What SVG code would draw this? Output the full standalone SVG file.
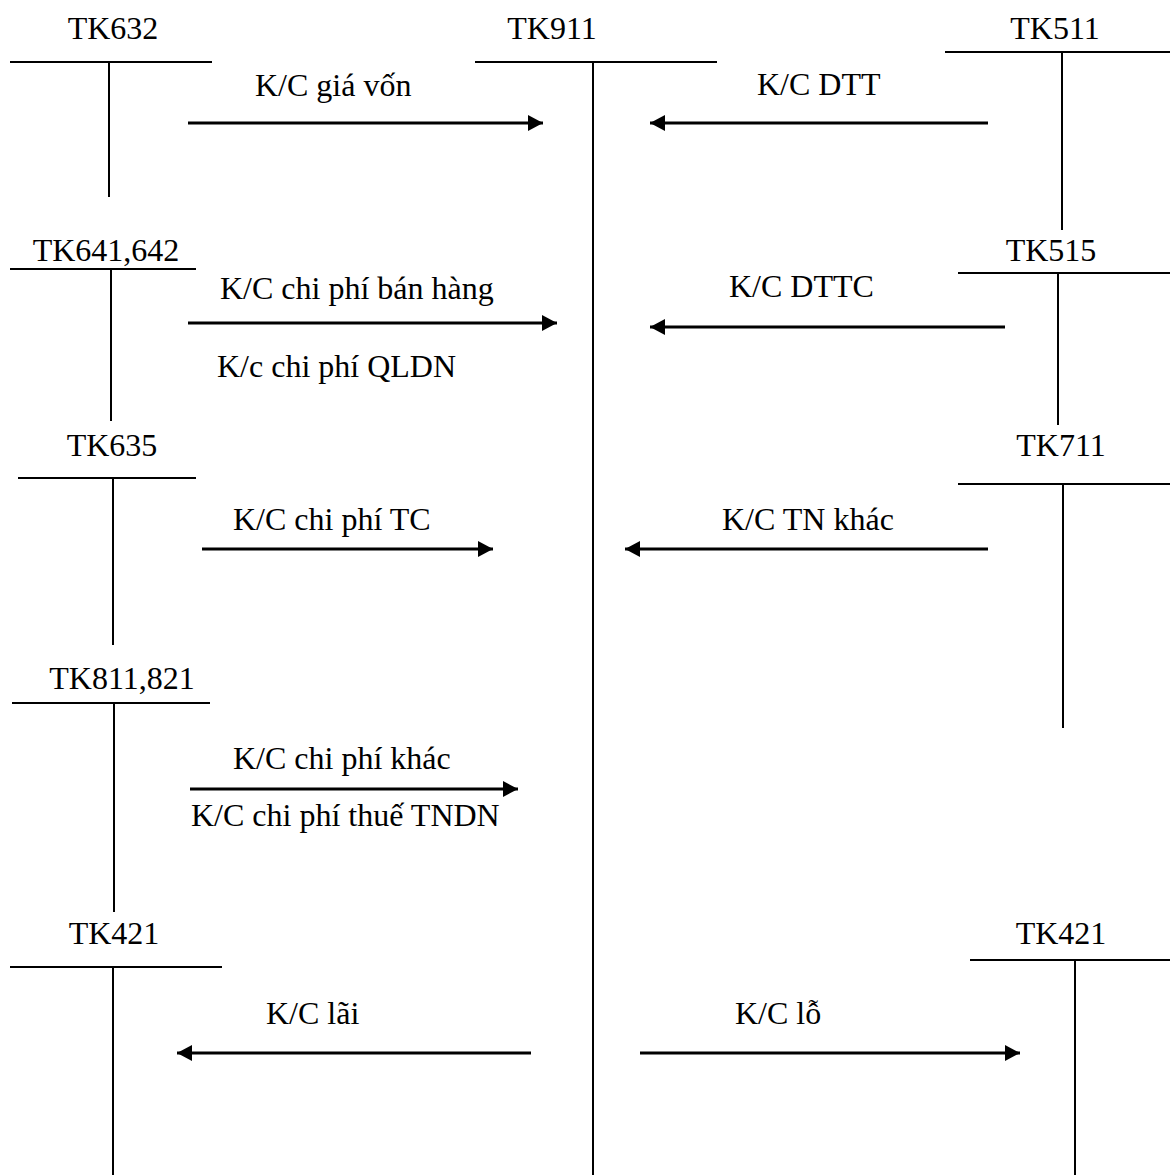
<svg xmlns="http://www.w3.org/2000/svg" width="1170" height="1175" viewBox="0 0 1170 1175">
<style>
text{font-family:"Liberation Serif","Times New Roman",serif;font-size:32px;fill:#000}
.t{stroke:#000;stroke-width:2;fill:none}
.a{stroke:#000;stroke-width:3;fill:none;marker-end:url(#ah)}
.m{text-anchor:middle}
</style>
<defs>
<marker id="ah" markerUnits="userSpaceOnUse" markerWidth="16" markerHeight="16" refX="15" refY="8" orient="auto">
<path d="M0,0 L15,8 L0,16 z" fill="#000"/>
</marker>
</defs>
<rect width="1170" height="1175" fill="#fff"/>
<g id="tk632"><text class="m" x="113" y="39">TK632</text><path class="t" d="M10,62H212M109,62V197"/></g>
<g id="tk911"><text class="m" x="552" y="39">TK911</text><path class="t" d="M475,62H717M593,62V1175"/></g>
<g id="tk511"><text class="m" x="1055" y="39">TK511</text><path class="t" d="M945,52H1170M1062,52V230"/></g>
<g id="tk641"><text class="m" x="106" y="261">TK641,642</text><path class="t" d="M10,269H196M111,269V421"/></g>
<g id="tk515"><text class="m" x="1051" y="261">TK515</text><path class="t" d="M958,273H1170M1058,273V425"/></g>
<g id="tk635"><text class="m" x="112" y="456">TK635</text><path class="t" d="M18,478H196M113,478V645"/></g>
<g id="tk711"><text class="m" x="1061" y="456">TK711</text><path class="t" d="M958,484H1170M1063,484V728"/></g>
<g id="tk811"><text class="m" x="122" y="689">TK811,821</text><path class="t" d="M12,703H210M114,703V912"/></g>
<g id="tk421a"><text class="m" x="114" y="944">TK421</text><path class="t" d="M10,967H222M113,967V1175"/></g>
<g id="tk421b"><text class="m" x="1061" y="944">TK421</text><path class="t" d="M970,960H1170M1075,960V1175"/></g>
<g id="connectors">
<path class="a" d="M188,123H543"/>
<path class="a" d="M988,123H650"/>
<path class="a" d="M188,323H557"/>
<path class="a" d="M1005,327H650"/>
<path class="a" d="M202,549H493"/>
<path class="a" d="M988,549H625"/>
<path class="a" d="M190,789H518"/>
<path class="a" d="M531,1053H177"/>
<path class="a" d="M640,1053H1020"/>
</g>
<g id="labels">
<text x="255" y="96">K/C giá vốn</text>
<text x="757" y="95">K/C DTT</text>
<text x="220" y="299">K/C chi phí bán hàng</text>
<text x="217" y="377">K/c chi phí QLDN</text>
<text x="729" y="297">K/C DTTC</text>
<text x="233" y="530">K/C chi phí TC</text>
<text x="722" y="530">K/C TN khác</text>
<text x="233" y="769">K/C chi phí khác</text>
<text x="191" y="826">K/C chi phí thuế TNDN</text>
<text x="266" y="1024">K/C lãi</text>
<text x="735" y="1024">K/C lỗ</text>
</g>
</svg>
